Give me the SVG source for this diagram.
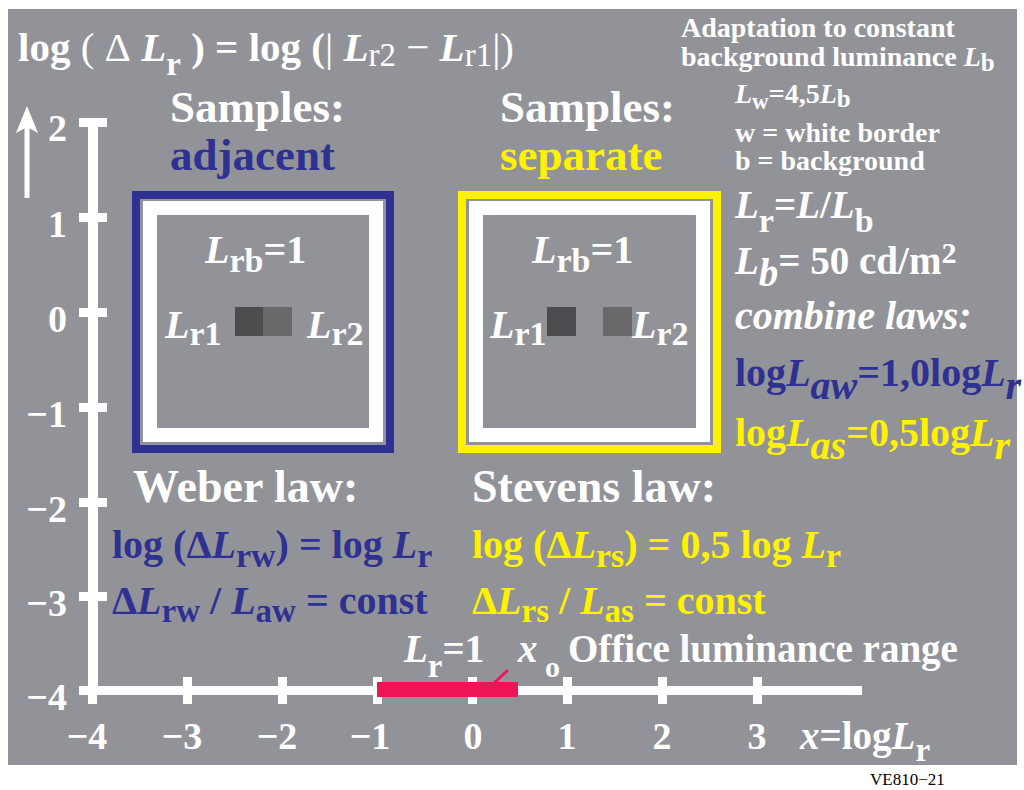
<svg xmlns="http://www.w3.org/2000/svg" width="1024" height="790" viewBox="0 0 1024 790">
<style>
text{font-family:"Liberation Serif","Times New Roman",serif;font-weight:bold;fill:#fff}
.i{font-style:italic}
.n{font-weight:normal}
.bl{fill:#2e3192}
.ye{fill:#fff200}
</style>
<rect x="0" y="0" width="1024" height="790" fill="#fff"/>
<rect x="8" y="9" width="1009" height="756" fill="#929398"/>
<g id="title">
<text x="18" y="61" font-size="41">log <tspan class="n">(</tspan> <tspan class="n">Δ</tspan> <tspan class="i">L</tspan><tspan font-size="33" dy="14">r</tspan><tspan dy="-14"> ) = log (<tspan class="n">|</tspan> <tspan class="i">L</tspan><tspan class="n" font-size="33" dy="5">r2</tspan><tspan class="n" dy="-5"> − </tspan><tspan class="i">L</tspan><tspan class="n" font-size="33" dy="5">r1</tspan><tspan class="n" dy="-5">|)</tspan></tspan></text>
</g>
<g id="axes">
<rect x="88" y="118" width="10" height="577" fill="#fff"/>
<rect x="88" y="686" width="774" height="9" fill="#fff"/>
<g fill="#fff">
<rect x="79" y="118" width="28" height="9"/>
<rect x="79" y="213" width="28" height="9"/>
<rect x="79" y="308" width="28" height="9"/>
<rect x="79" y="403" width="28" height="9"/>
<rect x="79" y="498" width="28" height="9"/>
<rect x="79" y="592" width="28" height="9"/>
<rect x="79" y="686" width="28" height="9"/>
<rect x="88" y="677" width="9" height="27"/>
<rect x="183" y="677" width="9" height="27"/>
<rect x="278" y="677" width="9" height="27"/>
<rect x="373" y="677" width="9" height="27"/>
<rect x="468" y="677" width="9" height="27"/>
<rect x="563" y="677" width="9" height="27"/>
<rect x="658" y="677" width="9" height="27"/>
<rect x="753" y="677" width="9" height="27"/>
</g>
<path d="M27 198 V120" stroke="#fff" stroke-width="5"/>
<path d="M27 106 L16 133 L27 127 L38 133 Z" fill="#fff"/>
<g font-size="38" text-anchor="end">
<text x="67" y="141">2</text>
<text x="67" y="237">1</text>
<text x="67" y="332">0</text>
<text x="67" y="427">−1</text>
<text x="67" y="522">−2</text>
<text x="67" y="616">−3</text>
<text x="67" y="710">−4</text>
</g>
<g font-size="38" text-anchor="middle">
<text x="87" y="749">−4</text>
<text x="182" y="749">−3</text>
<text x="277" y="749">−2</text>
<text x="370" y="749">−1</text>
<text x="473" y="749">0</text>
<text x="567" y="749">1</text>
<text x="662" y="749">2</text>
<text x="757" y="749">3</text>
</g>
<text x="800" y="749" font-size="39"><tspan class="i">x</tspan>=log<tspan class="i">L</tspan><tspan font-size="33" dy="12">r</tspan></text>
</g>
<g id="office-range">
<rect x="377" y="682" width="141" height="15" fill="#ed1556"/>
<path d="M494 683 L508 670" stroke="#ed1556" stroke-width="3"/>
<text x="404" y="662" font-size="39"><tspan class="i">L</tspan><tspan font-size="33" dy="15">r</tspan><tspan dy="-15">=1</tspan></text>
<text x="518" y="662" font-size="39"><tspan class="i">x</tspan><tspan font-size="30" dy="15"> o</tspan></text>
<text x="568" y="662" font-size="39">Office luminance range</text>
</g>
<g id="samples-adjacent">
<text x="170" y="122" font-size="45">Samples:</text>
<text x="170" y="170" font-size="45" class="bl">adjacent</text>
<rect x="136" y="195" width="254" height="254" fill="none" stroke="#2e3192" stroke-width="8"/>
<rect x="143" y="201" width="240" height="241" fill="#fff"/>
<rect x="157" y="215" width="212" height="213" fill="#929398"/>
<text x="205" y="263" font-size="40"><tspan class="i">L</tspan><tspan font-size="34" dy="9">rb</tspan><tspan dy="-9">=1</tspan></text>
<rect x="235" y="307" width="28" height="29" fill="#4d4d4f"/>
<rect x="263" y="307" width="29" height="29" fill="#69696b"/>
<text x="165" y="338" font-size="40"><tspan class="i">L</tspan><tspan font-size="34" dy="7">r1</tspan></text>
<text x="307" y="338" font-size="40"><tspan class="i">L</tspan><tspan font-size="34" dy="7">r2</tspan></text>
</g>
<g id="samples-separate">
<text x="500" y="122" font-size="45">Samples:</text>
<text x="500" y="170" font-size="45" class="ye">separate</text>
<rect x="462" y="195" width="255" height="254" fill="none" stroke="#fff200" stroke-width="8"/>
<rect x="469" y="201" width="241" height="241" fill="#fff"/>
<rect x="483" y="215" width="213" height="213" fill="#929398"/>
<text x="532" y="263" font-size="40"><tspan class="i">L</tspan><tspan font-size="34" dy="9">rb</tspan><tspan dy="-9">=1</tspan></text>
<rect x="547" y="307" width="29" height="29" fill="#4d4d4f"/>
<rect x="603" y="307" width="29" height="29" fill="#69696b"/>
<text x="490" y="338" font-size="40"><tspan class="i">L</tspan><tspan font-size="34" dy="7">r1</tspan></text>
<text x="632" y="338" font-size="40"><tspan class="i">L</tspan><tspan font-size="34" dy="7">r2</tspan></text>
</g>
<g id="notes">
<text x="681" y="37" font-size="28">Adaptation to constant</text>
<text x="681" y="66" font-size="28">background luminance <tspan class="i">L</tspan><tspan font-size="25" dy="5">b</tspan></text>
<text x="735" y="103" font-size="28"><tspan class="i">L</tspan><tspan font-size="23" dy="6">w</tspan><tspan dy="-6">=4,5</tspan><tspan class="i">L</tspan><tspan font-size="25" dy="4">b</tspan></text>
<text x="735" y="142" font-size="28">w = white border</text>
<text x="735" y="170" font-size="28">b = background</text>
<text x="735" y="218" font-size="39"><tspan class="i">L</tspan><tspan font-size="34" dy="14">r</tspan><tspan dy="-14">=</tspan><tspan class="i">L</tspan>/<tspan class="i">L</tspan><tspan font-size="34" dy="14">b</tspan></text>
<text x="735" y="274" font-size="39"><tspan class="i">L</tspan><tspan class="i" dy="12">b</tspan><tspan dy="-12">= 50 cd/m</tspan><tspan font-size="30" dy="-11">2</tspan></text>
<text x="735" y="329" font-size="40" class="i">combine laws:</text>
<text x="735" y="386" font-size="40" class="bl">log<tspan class="i">L</tspan><tspan class="i" dy="13">aw</tspan><tspan dy="-13">=1,0log</tspan><tspan class="i">L</tspan><tspan class="i" dy="13">r</tspan></text>
<text x="735" y="446" font-size="40" class="ye">log<tspan class="i">L</tspan><tspan class="i" dy="13">as</tspan><tspan dy="-13">=0,5log</tspan><tspan class="i">L</tspan><tspan class="i" dy="13">r</tspan></text>
</g>
<g id="weber">
<text x="133" y="502" font-size="46">Weber law:</text>
<text x="112" y="558" font-size="40" class="bl">log (Δ<tspan class="i">L</tspan><tspan font-size="34" dy="9">rw</tspan><tspan dy="-9">) = log </tspan><tspan class="i">L</tspan><tspan font-size="34" dy="9">r</tspan></text>
<text x="112" y="614" font-size="40" class="bl">Δ<tspan class="i">L</tspan><tspan font-size="33" dy="8">rw</tspan><tspan dy="-8"> / </tspan><tspan class="i">L</tspan><tspan font-size="33" dy="8">aw</tspan><tspan dy="-8"> = const</tspan></text>
</g>
<g id="stevens">
<text x="472" y="502" font-size="46">Stevens law:</text>
<text x="472" y="558" font-size="40" class="ye">log (Δ<tspan class="i">L</tspan><tspan font-size="34" dy="9">rs</tspan><tspan dy="-9">) = 0,5 log </tspan><tspan class="i">L</tspan><tspan font-size="34" dy="9">r</tspan></text>
<text x="472" y="614" font-size="40" class="ye">Δ<tspan class="i">L</tspan><tspan font-size="33" dy="8">rs</tspan><tspan dy="-8"> / </tspan><tspan class="i">L</tspan><tspan font-size="33" dy="8">as</tspan><tspan dy="-8"> = const</tspan></text>
</g>
<text x="870" y="785" font-size="17" style="font-weight:normal;fill:#000">VE810−21</text>
</svg>
